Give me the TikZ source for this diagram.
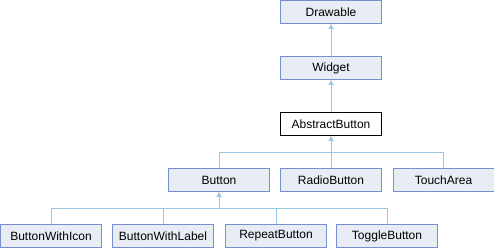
\documentclass[tikz,border=0pt]{standalone}
\usepackage{fontspec}
\setmainfont{Liberation Sans}
\usepackage{tikz}
\usetikzlibrary{arrows.meta, positioning}

\definecolor{boxfill}{RGB}{232,236,245}
\definecolor{boxline}{RGB}{122,142,203}
\definecolor{linkcol}{RGB}{150,200,228}

\begin{document}
\begin{tikzpicture}[x=1pt, y=-1pt, font=\fontsize{12}{14}\selectfont,
        cls/.style={draw=boxline, fill=boxfill, line width=1pt, minimum width=101pt, minimum height=23pt, inner sep=1pt},
        curcls/.style={cls, draw=black, fill=white},
        link/.style={draw=linkcol, line width=1pt},
        inherit/.style={link, -{Triangle[width=5pt, length=5pt]}},
      ]
        \useasboundingbox (0,0) rectangle (494,248);

        % top of the tree
        \node[cls] (drawable) at (331, 12) {Drawable};
        \node[cls] (widget) at (331, 68) {Widget};
        \node[curcls] (abstract) at (331, 124) {AbstractButton};

        \draw[inherit] (widget.north) -- (drawable.south);
        \draw[inherit] (abstract.north) -- (widget.south);

        % direct subclasses of AbstractButton
        \coordinate (busA) at (331, 152);
        \foreach \x/\name/\txt in {219/button/Button, 331/radio/RadioButton, 443.5/touch/TouchArea} {
          \node[cls] (\name) at (\x, 180) {\txt};
          \draw[link] (\name.north) |- (busA);
        }
        \draw[inherit] (busA) -- (abstract.south);

        % subclasses of Button
        \coordinate (busB) at (219, 208);
        \foreach \x/\name/\txt in {51/withicon/ButtonWithIcon, 163/withlabel/ButtonWithLabel, 276/repeat/RepeatButton, 387/toggle/ToggleButton} {
          \node[cls] (\name) at (\x, 236) {\txt};
          \draw[link] (\name.north) |- (busB);
        }
        \draw[inherit] (busB) -- (button.south);
      \end{tikzpicture}
\end{document}
